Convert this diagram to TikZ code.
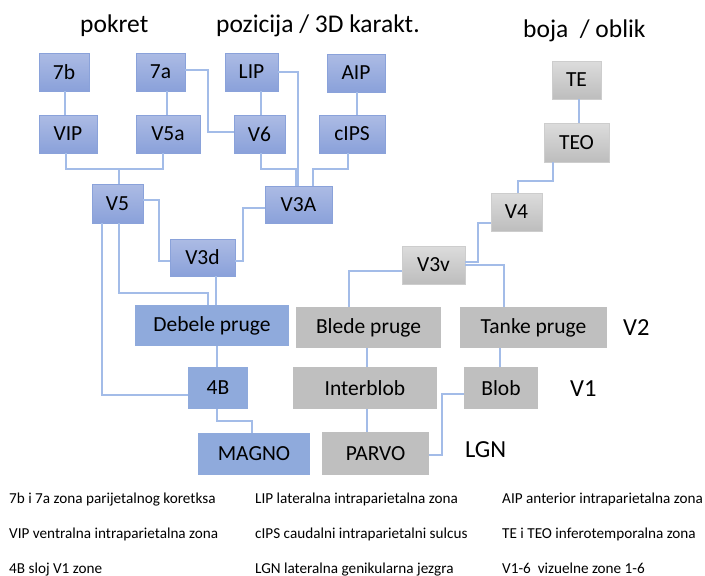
\documentclass[tikz,border=0pt]{standalone}
\usepackage{fontspec}
\setmainfont{Carlito}
\definecolor{btop}{HTML}{ACBBE4}
\definecolor{bbot}{HTML}{8AA1DA}
\definecolor{bbord}{HTML}{8AA2DA}
\definecolor{bflat}{HTML}{8FAADC}
\definecolor{gtop}{HTML}{DCDCDC}
\definecolor{gbot}{HTML}{BDBDBD}
\definecolor{gbord}{HTML}{CDCDCD}
\definecolor{gflat}{HTML}{BFBFBF}
\definecolor{lineC}{HTML}{A3BCE8}
\tikzset{
  box/.style={inner sep=0pt, outer sep=0pt, text=black, font=\fontsize{21.5}{24}\selectfont},
  bg/.style={box, draw=bbord, line width=0.8pt, top color=btop, bottom color=bbot},
  bf/.style={box, fill=bflat},
  gg/.style={box, draw=gbord, line width=0.8pt, top color=gtop, bottom color=gbot},
  gf/.style={box, fill=gflat},
  conn/.style={draw=lineC, line width=1.3pt},
  head/.style={inner sep=0pt, anchor=base west, font=\fontsize{25.5}{28}\selectfont},
  side/.style={inner sep=0pt, anchor=west, font=\fontsize{24.5}{27}\selectfont},
  foot/.style={inner sep=0pt, anchor=base west, font=\fontsize{15.2}{17}\selectfont},
}
\begin{document}
\begin{tikzpicture}[x=1pt,y=-1pt]
\fill[white] (0,0) rectangle (705,576);
\useasboundingbox (0,0) rectangle (705,576);

% headings
\node[head] (hpok) at (80,32) {pokret};
\node[head] (hpoz) at (216,32) {pozicija / 3D karakt.};
\node[head] (hboj) at (523,37) {boja ~/ oblik};

% blue boxes
\node[bg, minimum width=50pt, minimum height=38pt] (b7) at (64,72) {7b};
\node[bg, minimum width=49pt, minimum height=38pt] (a7) at (160.5,72) {7a};
\node[bg, minimum width=53pt, minimum height=38pt] (LIP) at (251.5,72) {LIP};
\node[bg, minimum width=58pt, minimum height=38pt] (AIP) at (356,73) {AIP};
\node[bg, minimum width=58pt, minimum height=38pt] (VIP) at (68,134) {VIP};
\node[bg, minimum width=64pt, minimum height=38pt] (V5a) at (168,134) {V5a};
\node[bg, minimum width=51pt, minimum height=38pt] (V6) at (259.5,134) {V6};
\node[bg, minimum width=66pt, minimum height=38pt] (cIPS) at (352,134) {cIPS};
\node[bg, minimum width=51pt, minimum height=39pt] (V5) at (117.5,203.5) {V5};
\node[bg, minimum width=67pt, minimum height=37pt] (V3A) at (298.5,204.5) {V3A};
\node[bg, minimum width=65pt, minimum height=37pt] (V3d) at (202.5,257.5) {V3d};
\node[bf, minimum width=154pt, minimum height=41pt] (Deb) at (212,325.5) {Debele pruge};
\node[bf, minimum width=60pt, minimum height=42pt] (b4) at (218,388) {4B};
\node[bf, minimum width=112pt, minimum height=42pt] (MAG) at (254,454) {MAGNO};

% gray boxes
\node[gg, minimum width=49pt, minimum height=38pt] (TE) at (576.5,80) {TE};
\node[gg, minimum width=65pt, minimum height=39pt] (TEO) at (576.5,142.5) {TEO};
\node[gg, minimum width=51pt, minimum height=38pt] (V4) at (516.5,212) {V4};
\node[gg, minimum width=63pt, minimum height=38pt] (V3v) at (433.5,265) {V3v};
\node[gf, minimum width=145pt, minimum height=41pt] (Ble) at (368.5,327.5) {Blede pruge};
\node[gf, minimum width=147pt, minimum height=41pt] (Tan) at (533.5,327.5) {Tanke pruge};
\node[gf, minimum width=144pt, minimum height=42pt] (Int) at (365,388) {Interblob};
\node[gf, minimum width=74pt, minimum height=42pt] (Blob) at (501,388) {Blob};
\node[gf, minimum width=107pt, minimum height=43pt] (PAR) at (375.5,453.5) {PARVO};

% side labels
\node[side] (lv2) at (623,328) {V2};
\node[side] (lv1) at (570,389) {V1};
\node[side] (llgn) at (465,450) {LGN};

% connectors
\draw[conn] ([xshift=1pt]b7.south) -- ([xshift=-3pt]VIP.north);
\draw[conn] ([xshift=6.5pt]a7.south) -- ([xshift=-1pt]V5a.north);
\draw[conn] ([yshift=2pt]a7.east) -- ++(23,0) |- ([yshift=2pt]V6.west);
\draw[conn] ([xshift=9.5pt]LIP.south) -- ([xshift=1.5pt]V6.north);
\draw[conn] (LIP.east) -| ([xshift=-0.5pt]V3A.north);
\draw[conn] ([xshift=1.5pt]V6.south) |- ([xshift=-2.5pt,yshift=17pt]V3A.north) -- ([xshift=-2.5pt]V3A.north);
\draw[conn] ([xshift=-4pt]cIPS.south) |- ([xshift=14.5pt,yshift=17pt]V3A.north) -- ([xshift=14.5pt]V3A.north);
\draw[conn] ([xshift=1pt]AIP.south) -- ([xshift=5pt]cIPS.north);
\draw[conn] ([xshift=-2pt]VIP.south) -- ++(0,16) -| ([xshift=-5pt]V5a.south);
\draw[conn] ([xshift=1.5pt]V5.north) -- ++(0,-15);
\draw[conn] ([yshift=3.5pt]V5.east) -- ++(16,0) |- ([yshift=-3.5pt]V3d.west);
\draw[conn] ([yshift=-3.5pt]V3A.west) -- ++(-22,0) |- ([yshift=-3.5pt]V3d.east);
\draw[conn] ([xshift=1.5pt]V5.south) |- ([xshift=-4pt,yshift=12pt]Deb.north) -- ([xshift=-4pt]Deb.north);
\draw[conn] ([xshift=13.5pt]V3d.south) -- ([xshift=4pt]Deb.north);
\draw[conn] ([xshift=-15.5pt]V5.south) |- ([yshift=-7pt]b4.west);
\draw[conn] ([xshift=5pt]Deb.south) -- ([xshift=-1pt]b4.north);
\draw[conn] ([xshift=-1pt]b4.south) |- ([xshift=-2pt,yshift=12pt]MAG.north) -- ([xshift=-2pt]MAG.north);

\draw[conn] ([xshift=2.5pt]TE.south) -- ([xshift=2.5pt]TEO.north);
\draw[conn] ([xshift=-23.5pt]TEO.south) |- ([xshift=1.5pt,yshift=12pt]V4.north) -- ([xshift=1.5pt]V4.north);
\draw[conn] ([yshift=-11pt]V4.west) -- ++(-13,0) |- ([yshift=3pt]V3v.east);
\draw[conn] (V3v.east) -| ([xshift=-29.5pt]Tan.north);
\draw[conn] ([yshift=-6pt]V3v.west) -| ([xshift=-19.5pt]Ble.north);
\draw[conn] ([xshift=-1.5pt]Ble.south) -- ([xshift=2pt]Int.north);
\draw[conn] ([xshift=-33.5pt]Tan.south) -- ([xshift=-1pt]Blob.north);
\draw[conn] ([yshift=-6pt]Blob.west) -- ++(-22,0) |- ([yshift=-1.5pt]PAR.east);
\draw[conn] ([xshift=2pt]Int.south) -- ([xshift=-8.5pt]PAR.north);

% footer
\node[foot] (f11) at (9,503) {7b i 7a zona parijetalnog koretksa};
\node[foot] (f12) at (255,503) {LIP lateralna intraparietalna zona};
\node[foot] (f13) at (502,503) {AIP anterior intraparietalna zona};
\node[foot] (f21) at (9,538) {VIP ventralna intraparietalna zona};
\node[foot] (f22) at (255,538) {cIPS caudalni intraparietalni sulcus};
\node[foot] (f23) at (502,538) {TE i TEO inferotemporalna zona};
\node[foot] (f31) at (9,573) {4B sloj V1 zone};
\node[foot] (f32) at (255,573) {LGN lateralna genikularna jezgra};
\node[foot] (f33) at (502,573) {V1-6 ~vizuelne zone 1-6};
\end{tikzpicture}
\end{document}
